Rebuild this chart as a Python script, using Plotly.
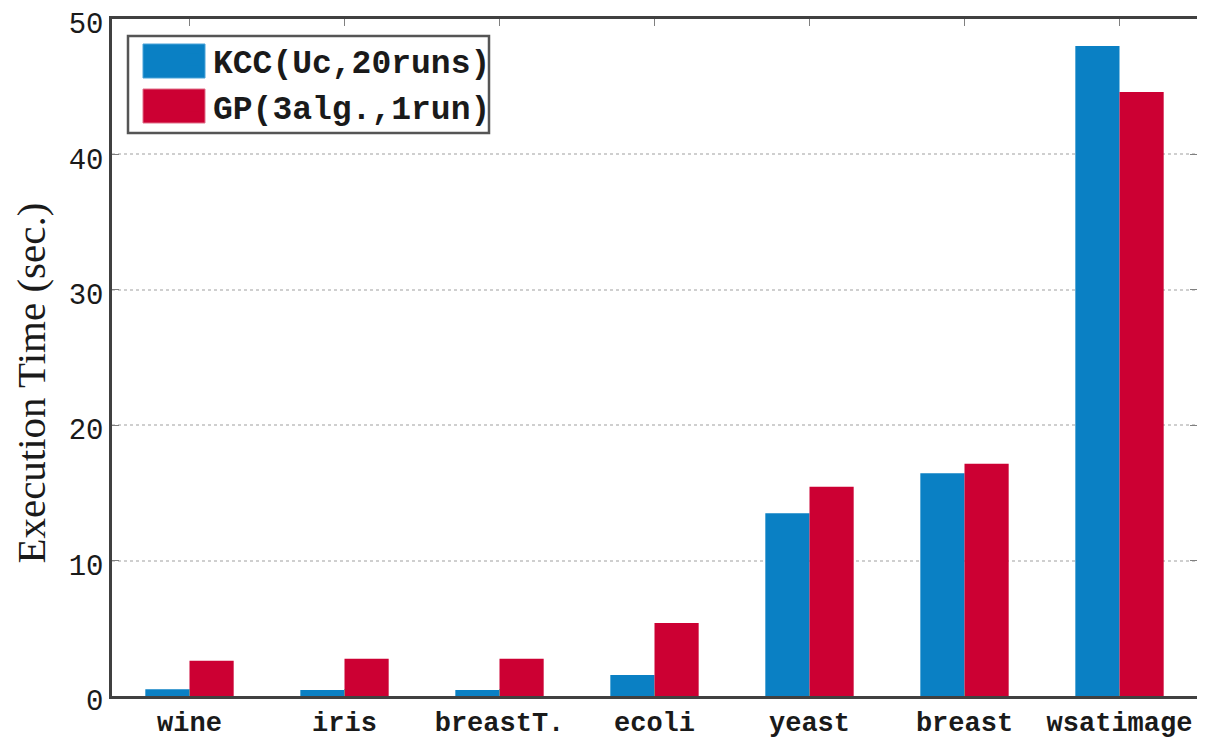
import plotly.graph_objects as go

categories = ["wine", "iris", "breastT.", "ecoli", "yeast", "breast", "wsatimage"]
kcc_values = [0.5, 0.45, 0.45, 1.55, 13.5, 16.45, 48.0]
gp_values = [2.6, 2.75, 2.75, 5.4, 15.45, 17.15, 44.6]
series_names = ["KCC(Uc,20runs)", "GP(3alg.,1run)"]
y_ticks = [0, 10, 20, 30, 40, 50]

blue, blue_edge = "#0a80c4", "#4aa3d8"
red, red_edge = "#cc0033", "#e0708a"

mono = "Liberation Mono, Courier New, monospace"
serif = "Liberation Serif, Times New Roman, serif"

# the page body adds an 8px offset; work in page pixels and convert
OFF = 8
W, H = 1205 - OFF, 738 - OFF
PL, PR, PT, PB = 112, 1197, 19, 696          # plot area in page pixels
ML, MR, MT, MB = PL - OFF, W - (PR - OFF), PT - OFF, H - (PB - OFF)
PW, PH = PR - PL, PB - PT


def px_x(v):
    return (v - PL) / PW


def px_y(v):
    return (PB - v) / PH


fig = go.Figure()
fig.add_trace(go.Bar(x=categories, y=kcc_values, name="<b>%s</b>" % series_names[0],
                     marker=dict(color=blue, line=dict(width=0))))
fig.add_trace(go.Bar(x=categories, y=gp_values, name="<b>%s</b>" % series_names[1],
                     marker=dict(color=red, line=dict(width=0))))

# legend frame and large swatches (decoration for the legend)
shapes = [
    dict(type="rect", xref="paper", yref="paper", layer="above",
         x0=px_x(128), x1=px_x(489), y0=px_y(36), y1=px_y(133),
         line=dict(color="#555555", width=2.5), fillcolor="white"),
    dict(type="rect", xref="paper", yref="paper", layer="above",
         x0=px_x(143), x1=px_x(205), y0=px_y(44), y1=px_y(78),
         line=dict(color=blue_edge, width=1), fillcolor=blue),
    dict(type="rect", xref="paper", yref="paper", layer="above",
         x0=px_x(143), x1=px_x(205), y0=px_y(89), y1=px_y(123),
         line=dict(color=red_edge, width=1), fillcolor=red),
]

fig.update_layout(
    width=W, height=H,
    margin=dict(l=ML, r=MR, t=MT, b=MB, autoexpand=False),
    paper_bgcolor="white", plot_bgcolor="white",
    barmode="group", bargap=0.43, bargroupgap=0,
    showlegend=True,
    legend=dict(x=px_x(173), y=px_y(32), xanchor="left", yanchor="top",
                borderwidth=0, bgcolor="rgba(0,0,0,0)",
                font=dict(family=mono, size=33, color="#1a1a1a"),
                itemwidth=30),
    font=dict(family=mono, color="#1a1a1a"),
    shapes=shapes,
)
fig.update_xaxes(
    type="category", range=[-0.5, 6.5], automargin=False,
    showline=True, linecolor="#404040", linewidth=2.5, mirror="ticks",
    ticks="inside", ticklen=7, tickcolor="#808080",
    tickfont=dict(family=mono, size=27, color="#1a1a1a"),
    ticklabelstandoff=0,
    tickvals=categories, ticktext=["<b>%s</b>" % c for c in categories],
    showgrid=False,
)
fig.update_yaxes(
    range=[0, 50], tickvals=y_ticks, automargin=False,
    showline=True, linecolor="#404040", linewidth=2.5, mirror="ticks",
    ticks="inside", ticklen=7, tickcolor="#808080",
    tickfont=dict(family=mono, size=29, color="#1a1a1a"),
    ticklabelstandoff=0, ticklabeloverflow="allow", ticklabelshift=4,
    showgrid=True, gridcolor="#cfcfcf", griddash="dot", gridwidth=1.5,
    zeroline=False,
    title=dict(text="Execution Time (sec.)" + "&nbsp;" * 5,
               font=dict(family=serif, size=41, color="#1a1a1a"),
               standoff=16),
)

fig.write_html("out.html")
